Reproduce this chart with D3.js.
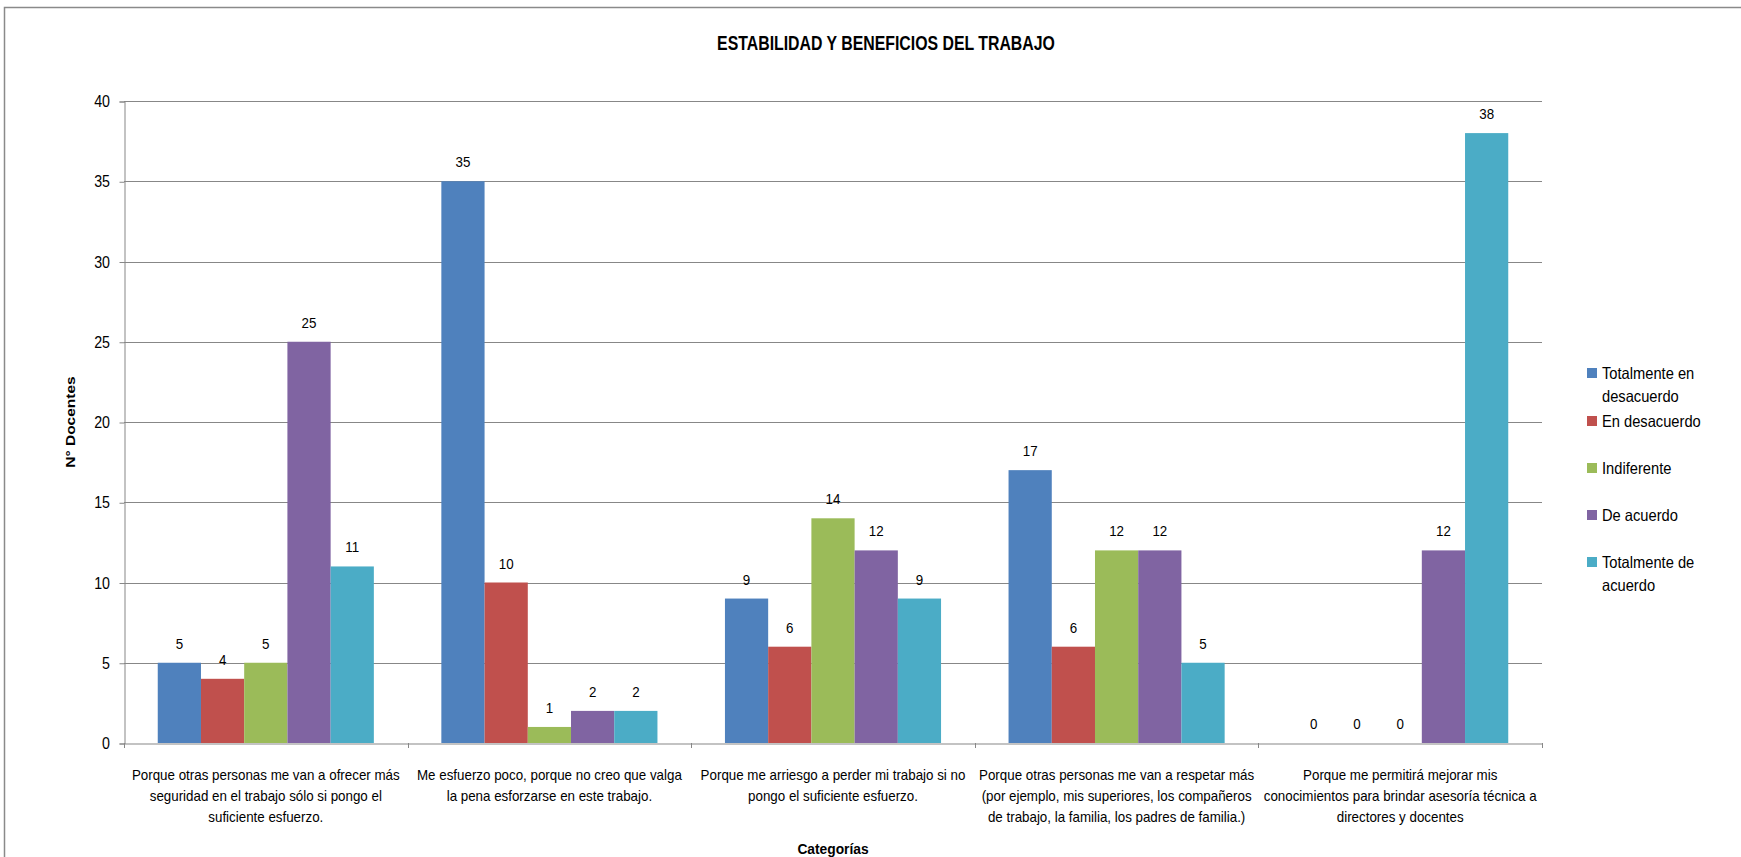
<!DOCTYPE html>
<html>
<head>
<meta charset="utf-8">
<script src="https://cdn.jsdelivr.net/npm/d3@7"></script>
<style>
  html, body { margin: 0; padding: 0; background: #ffffff; }
  svg { display: block; }
  text { font-family: "Liberation Sans", Arial, sans-serif; fill: #000; }
</style>
</head>
<body>
<svg id="chart" width="1741" height="857"></svg>
<script>
// ---------------- DATA ----------------
const chartTitle = "ESTABILIDAD Y BENEFICIOS DEL TRABAJO";
const yAxisTitle = "N° Docentes";
const xAxisTitle = "Categorías";

const categories = [
  "Porque otras personas me van a ofrecer más\nseguridad en el trabajo sólo si pongo el\nsuficiente esfuerzo.",
  "Me esfuerzo poco, porque no creo que valga\nla pena esforzarse en este trabajo.",
  "Porque me arriesgo a perder mi trabajo si no\npongo el suficiente esfuerzo.",
  "Porque otras personas me van a respetar más\n(por ejemplo, mis superiores, los compañeros\nde trabajo, la familia, los padres de familia.)",
  "Porque me permitirá mejorar mis\nconocimientos para brindar asesoría técnica a\ndirectores y docentes"
];

const seriesNames = ["Totalmente en desacuerdo", "En desacuerdo", "Indiferente", "De acuerdo", "Totalmente de acuerdo"];
const legendLabels = ["Totalmente en\ndesacuerdo", "En desacuerdo", "Indiferente", "De acuerdo", "Totalmente de\nacuerdo"];
const seriesColors = ["#4F81BD", "#C0504D", "#9BBB59", "#8064A2", "#4BACC6"];

const totalmenteEnDesacuerdo = [5, 35, 9, 17, 0];
const enDesacuerdo           = [4, 10, 6, 6, 0];
const indiferente            = [5, 1, 14, 12, 0];
const deAcuerdo              = [25, 2, 12, 12, 12];
const totalmenteDeAcuerdo    = [11, 2, 9, 5, 38];
const seriesValues = [totalmenteEnDesacuerdo, enDesacuerdo, indiferente, deAcuerdo, totalmenteDeAcuerdo];

const yTicks = [0, 5, 10, 15, 20, 25, 30, 35, 40];

// ---------------- LAYOUT ----------------
const svg = d3.select("#chart");
const plot = { left: 124, right: 1542, top: 101, bottom: 743 };
const gridColor = "#878787";

// measure helper for horizontal compression (the reference text is narrow)
function measure(str, size, weight) {
  const t = svg.append("text").attr("font-size", size).attr("font-weight", weight || "normal").text(str);
  const w = t.node().getComputedTextLength();
  t.remove();
  return w;
}
const sx = 268 / measure("Porque otras personas me van a ofrecer más", 15);
const sTitle = 338 / measure(chartTitle, 21, "bold");

function addText(g, str, x, y, size, opts) {
  opts = opts || {};
  const s = opts.scale || sx;
  return g.append("text")
    .attr("transform", `translate(${x},${y}) scale(${s},1)`)
    .attr("font-size", size)
    .attr("font-weight", opts.weight || "normal")
    .attr("text-anchor", opts.anchor || "middle")
    .text(str);
}

// outer border
svg.append("rect")
  .attr("x", 4.5).attr("y", 7.5)
  .attr("width", 1760).attr("height", 880)
  .attr("fill", "none").attr("stroke", "#8a8a8a").attr("stroke-width", 1.5);

// scales
const y = d3.scaleLinear().domain([0, 40]).range([plot.bottom, plot.top]);
const x0 = d3.scaleBand().domain(d3.range(categories.length)).range([plot.left, plot.right]).padding(0);
const gap = x0.bandwidth() * 0.119;
const x1 = d3.scaleBand().domain(d3.range(seriesNames.length)).range([gap, x0.bandwidth() - gap]).padding(0);

// gridlines
const grid = svg.append("g");
grid.selectAll("line").data(yTicks.filter(d => d > 0)).join("line")
  .attr("x1", plot.left).attr("x2", plot.right)
  .attr("y1", d => Math.round(y(d)) + 0.5).attr("y2", d => Math.round(y(d)) + 0.5)
  .attr("stroke", gridColor).attr("stroke-width", 1);

// y axis
const yAxisG = svg.append("g")
  .attr("transform", `translate(${plot.left + 0.5},0.5)`)
  .call(d3.axisLeft(y).tickValues(yTicks).tickSize(5).tickFormat(""));
yAxisG.select(".domain").attr("stroke", gridColor);
yAxisG.selectAll(".tick line").attr("stroke", gridColor);
yTicks.forEach(v => addText(svg, String(v), 110, y(v) + 6, 16, { anchor: "end" }));

// x axis
const xAxisG = svg.append("g")
  .attr("transform", `translate(0,${plot.bottom + 0.5})`)
  .call(d3.axisBottom(x0).tickSize(0).tickFormat(""));
xAxisG.select(".domain").attr("stroke", gridColor);
xAxisG.selectAll(".tick").remove();
const bounds = d3.range(categories.length + 1).map(i => i < categories.length ? x0(i) : x0(categories.length - 1) + x0.bandwidth());
svg.append("g").selectAll("line").data(bounds).join("line")
  .attr("x1", d => Math.round(d) + 0.5).attr("x2", d => Math.round(d) + 0.5)
  .attr("y1", plot.bottom).attr("y2", plot.bottom + 5)
  .attr("stroke", gridColor);

// bars
const groups = svg.append("g").selectAll("g").data(categories).join("g")
  .attr("transform", (d, i) => `translate(${x0(i)},0)`);
groups.each(function (c, ci) {
  const g = d3.select(this);
  seriesValues.forEach((vals, si) => {
    const v = vals[ci];
    g.append("rect")
      .attr("x", x1(si)).attr("width", x1.bandwidth())
      .attr("y", y(v)).attr("height", plot.bottom - y(v))
      .attr("fill", seriesColors[si]);
    addText(g, String(v), x1(si) + x1.bandwidth() / 2, y(v) - 14, 15);
  });
});

// category labels
categories.forEach((c, i) => {
  const cx = x0(i) + x0.bandwidth() / 2;
  c.split("\n").forEach((line, li) => addText(svg, line, cx, 780 + li * 21, 15));
});

// title
addText(svg, chartTitle, 886, 50, 21, { weight: "bold", scale: sTitle });

// y axis title
svg.append("text")
  .attr("transform", `translate(75,422) rotate(-90) scale(1,0.85)`)
  .attr("font-size", 15.5).attr("font-weight", "bold").attr("text-anchor", "middle")
  .text(yAxisTitle);

// x axis title
addText(svg, xAxisTitle, (plot.left + plot.right) / 2, 854, 15.5, { weight: "bold" });

// legend
const legendY = [373, 421, 468, 515, 562];
legendLabels.forEach((lab, i) => {
  svg.append("rect")
    .attr("x", 1587).attr("y", legendY[i] - 5).attr("width", 10).attr("height", 10)
    .attr("fill", seriesColors[i]);
  lab.split("\n").forEach((line, li) =>
    addText(svg, line, 1602, legendY[i] + 6 + li * 23, 16.5, { anchor: "start" }));
});
</script>
</body>
</html>
